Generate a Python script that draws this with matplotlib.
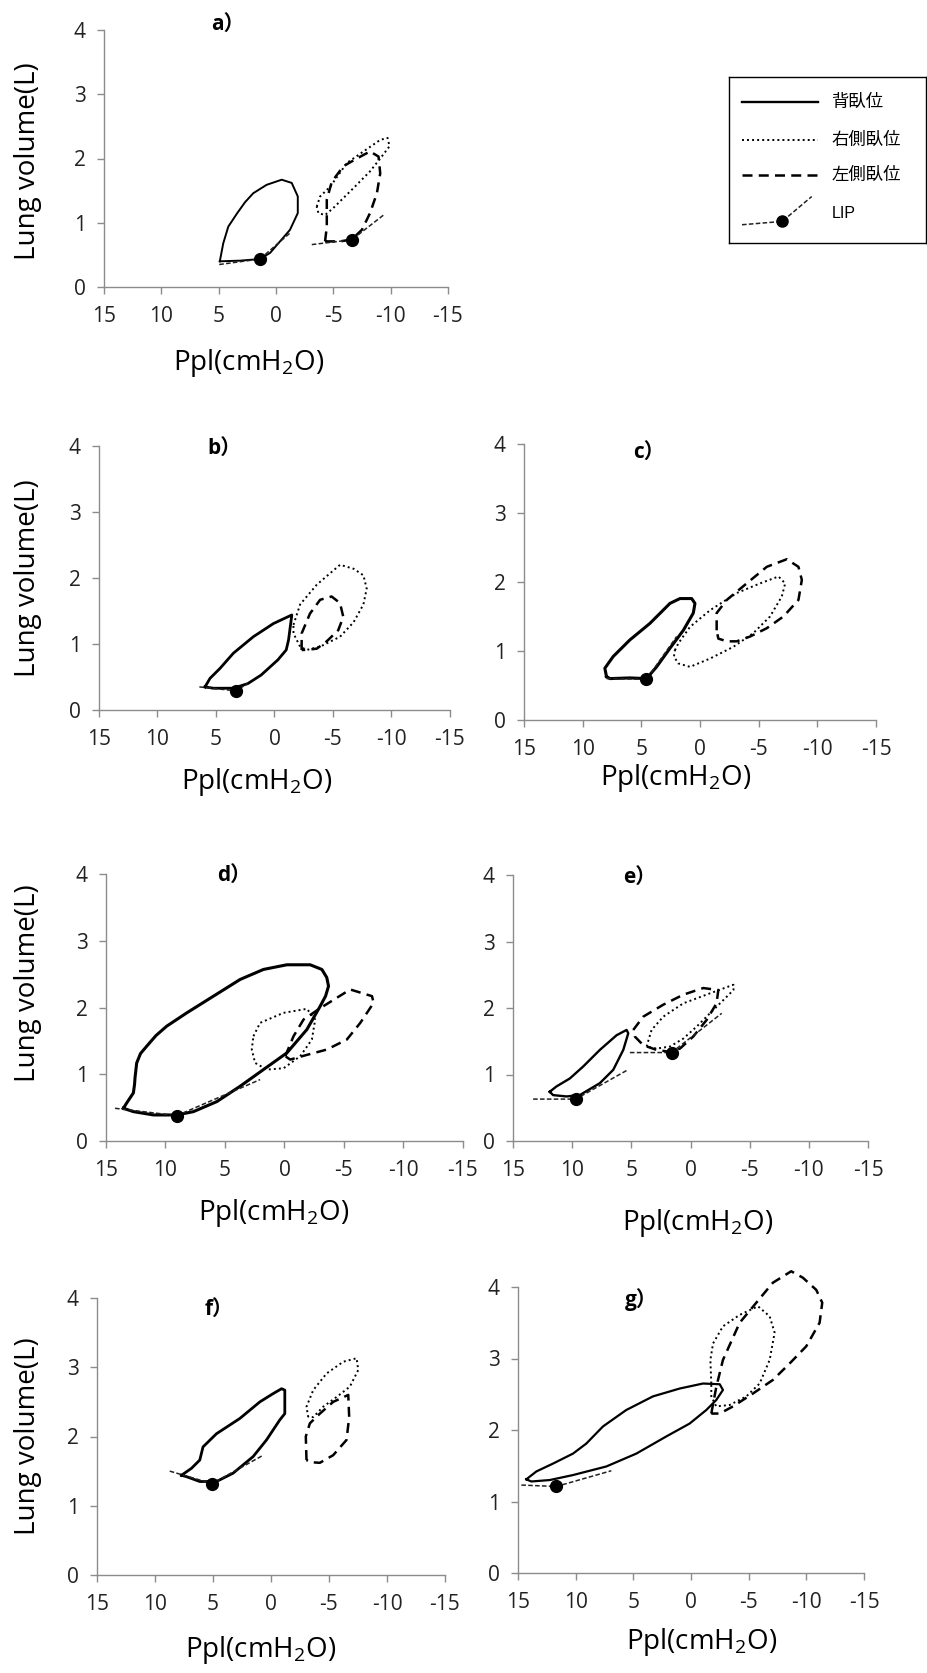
import matplotlib
matplotlib.use('Agg')
import matplotlib.pyplot as plt

plt.rcParams['font.family'] = ['Open Sans', 'Noto Sans CJK JP', 'DejaVu Sans']
plt.rcParams['mathtext.fontset'] = 'custom'
plt.rcParams['mathtext.rm'] = 'Open Sans'

# (Ppl cmH2O, volume L) traced loops; sup=背臥位, right=右側臥位, left=左側臥位
a_sup = [(4.9,0.40),(4.6,0.68),(4.16,0.94),(3.38,1.15),(2.7,1.32),(1.98,1.46),(0.82,1.59),(-0.5,1.67),(-1.37,1.62),(-1.9,1.41),(-1.9,1.15),(-1.22,0.89),(-0.35,0.71),(0.52,0.53),(1.4,0.435),(3.15,0.41),(4.9,0.40)]
a_right = [(-3.55,1.25),(-3.85,1.41),(-4.72,1.56),(-6.18,1.93),(-7.63,2.11),(-9.09,2.29),(-9.73,2.32),(-9.9,2.19),(-9.09,2.0),(-8.2,1.80),(-6.76,1.54),(-5.0,1.23),(-4.28,1.12),(-3.7,1.15),(-3.55,1.25)]
a_left = [(-4.28,0.71),(-4.43,0.94),(-4.43,1.36),(-4.87,1.64),(-5.88,1.88),(-7.05,2.0),(-8.2,2.11),(-8.94,2.03),(-9.09,1.77),(-8.8,1.46),(-8.2,1.15),(-7.49,0.89),(-6.6,0.74),(-5.6,0.71),(-4.28,0.71)]
a_lip = [[(4.95,0.35),(1.4,0.435),(-1.22,0.84)], [(-3.12,0.66),(-6.61,0.735),(-9.38,1.12)]]

b_sup = [(5.94,0.35),(5.51,0.48),(4.66,0.63),(3.52,0.86),(1.81,1.11),(0.09,1.31),(-1.48,1.44),(-1.2,1.06),(-1.0,0.91),(-0.29,0.76),(1.14,0.53),(2.28,0.40),(3.52,0.33),(5.23,0.33),(5.94,0.35)]
b_right = [(-1.62,1.29),(-2.19,1.6),(-3.62,1.9),(-5.6,2.2),(-6.76,2.14),(-7.6,2.04),(-7.88,1.84),(-7.6,1.6),(-6.76,1.33),(-5.6,1.11),(-3.9,0.96),(-2.75,0.91),(-2.19,0.96),(-1.62,1.16),(-1.62,1.29)]
b_left = [(-2.32,0.91),(-2.32,1.16),(-3.03,1.46),(-3.9,1.67),(-4.88,1.72),(-5.6,1.62),(-5.88,1.41),(-5.45,1.21),(-4.46,1.04),(-3.62,0.93),(-2.75,0.91),(-2.32,0.91)]
b_lip = [[(6.42,0.35),(3.29,0.29),(2.3,0.40)]]

c_sup = [(7.97,0.63),(8.11,0.75),(7.4,0.92),(5.98,1.16),(4.27,1.40),(2.56,1.69),(1.71,1.76),(0.71,1.76),(0.43,1.69),(0.57,1.55),(1.42,1.30),(2.56,1.04),(3.7,0.77),(4.56,0.60),(5.98,0.61),(7.68,0.60),(7.97,0.63)]
c_right = [(2.14,1.01),(1.85,1.11),(0.85,1.35),(-0.85,1.59),(-3.13,1.84),(-5.12,1.98),(-6.69,2.08),(-7.26,1.98),(-6.97,1.79),(-5.97,1.50),(-4.55,1.26),(-2.84,1.06),(-0.85,0.89),(0.85,0.77),(1.85,0.82),(2.22,0.92),(2.14,1.01)]
c_left = [(-1.42,1.30),(-1.42,1.55),(-2.28,1.74),(-3.98,1.98),(-5.69,2.22),(-7.4,2.33),(-8.39,2.22),(-8.68,2.03),(-8.39,1.74),(-7.11,1.50),(-5.69,1.33),(-4.27,1.21),(-3.13,1.14),(-2.28,1.14),(-1.56,1.18),(-1.42,1.30)]
c_lip = [[(7.97,0.60),(4.56,0.59),(1.99,1.21)]]

d_sup = [(13.54,0.49),(13.26,0.57),(12.7,0.72),(12.6,0.85),(12.56,0.95),(12.42,1.17),(12.1,1.31),(11.58,1.42),(10.8,1.58),(9.9,1.72),(8.21,1.92),(5.97,2.17),(3.73,2.42),(1.77,2.57),(-0.2,2.64),(-2.16,2.64),(-3.14,2.57),(-3.55,2.45),(-3.7,2.32),(-3.45,2.17),(-3.0,2.02),(-1.88,1.67),(-0.2,1.32),(1.77,1.07),(3.73,0.82),(5.69,0.59),(7.65,0.44),(9.05,0.39),(11.0,0.39),(12.7,0.44),(13.54,0.49)]
d_right = [(2.61,1.57),(2.05,1.77),(0.08,1.92),(-1.88,1.98),(-2.58,1.82),(-2.3,1.52),(-1.32,1.27),(0.08,1.09),(1.49,1.07),(2.47,1.17),(2.75,1.37),(2.61,1.57)]
d_left = [(-0.06,1.27),(-0.76,1.57),(-1.6,1.82),(-3.0,1.99),(-5.52,2.27),(-7.35,2.17),(-7.49,2.07),(-6.37,1.77),(-5.24,1.52),(-3.56,1.37),(-1.88,1.29),(-0.48,1.22),(-0.06,1.27)]
d_lip = [[(14.24,0.49),(9.05,0.38),(2.05,0.92)]]

e_sup = [(11.9,0.74),(11.33,0.82),(10.2,0.94),(9.07,1.12),(7.66,1.37),(6.25,1.59),(5.4,1.67),(5.26,1.62),(5.68,1.37),(6.53,1.07),(7.66,0.87),(9.36,0.69),(10.48,0.67),(11.61,0.69),(11.9,0.74)]
e_right = [(3.71,1.42),(3.29,1.67),(2.3,1.87),(0.61,2.07),(-1.64,2.22),(-3.63,2.35),(-3.63,2.27),(-2.78,2.12),(-1.64,1.92),(-0.52,1.72),(0.61,1.54),(1.74,1.42),(2.87,1.39),(3.71,1.42)]
e_left = [(4.84,1.67),(3.99,1.87),(2.3,2.05),(0.61,2.2),(-1.08,2.3),(-2.35,2.27),(-2.2,2.07),(-1.36,1.82),(-0.23,1.57),(0.89,1.39),(1.74,1.34),(2.87,1.37),(3.99,1.44),(4.7,1.57),(4.84,1.67)]
e_lip = [[(13.3,0.63),(9.7,0.63),(5.4,1.06)], [(5.12,1.33),(1.6,1.33),(-2.64,1.92)]]

f_sup = [(7.72,1.44),(6.86,1.54),(6.14,1.66),(5.86,1.85),(4.7,2.04),(2.69,2.26),(0.96,2.5),(-0.19,2.62),(-0.91,2.69),(-1.19,2.67),(-1.19,2.33),(-0.76,2.24),(0.39,1.95),(1.54,1.71),(3.27,1.47),(4.7,1.35),(6.14,1.35),(7.29,1.42),(7.72,1.44)]
f_right = [(-3.21,2.28),(-3.06,2.43),(-3.64,2.67),(-4.79,2.91),(-6.23,3.08),(-7.38,3.13),(-7.52,2.96),(-6.8,2.72),(-5.65,2.57),(-4.5,2.43),(-3.64,2.28),(-3.21,2.28)]
f_left = [(-3.06,1.66),(-3.0,2.0),(-3.35,2.19),(-4.21,2.33),(-5.36,2.5),(-6.66,2.6),(-6.74,2.28),(-6.51,1.95),(-5.36,1.73),(-4.21,1.62),(-3.35,1.63),(-3.06,1.66)]
f_lip = [[(8.73,1.50),(5.08,1.32),(0.67,1.73)]]

g_sup = [(14.28,1.31),(13.41,1.42),(11.97,1.53),(10.23,1.67),(9.08,1.81),(7.63,2.05),(5.61,2.28),(3.30,2.47),(0.98,2.58),(-1.04,2.65),(-2.49,2.64),(-2.77,2.56),(-2.19,2.42),(-1.33,2.28),(0.12,2.09),(2.14,1.91),(4.74,1.67),(7.34,1.49),(10.23,1.37),(12.25,1.30),(13.84,1.28),(14.28,1.31)]
g_right = [(-1.76,2.65),(-1.68,2.98),(-1.91,3.21),(-2.77,3.45),(-4.22,3.61),(-5.81,3.73),(-6.82,3.59),(-7.25,3.36),(-6.82,2.98),(-5.95,2.65),(-4.8,2.47),(-3.35,2.35),(-2.19,2.33),(-1.76,2.47),(-1.76,2.65)]
g_left = [(-1.76,2.23),(-2.19,2.6),(-2.77,2.98),(-4.22,3.50),(-5.66,3.78),(-7.1,4.06),(-8.69,4.22),(-9.7,4.13),(-10.86,3.96),(-11.38,3.78),(-11.15,3.50),(-9.99,3.17),(-8.55,2.93),(-7.1,2.70),(-5.37,2.51),(-3.64,2.33),(-2.49,2.23),(-1.76,2.23)]
g_lip = [[(14.71,1.23),(11.68,1.21),(6.91,1.43)]]

x_ticks = [15, 10, 5, 0, -5, -10, -15]
y_ticks = [0, 1, 2, 3, 4]
legend_labels = ['背臥位', '右側臥位', '左側臥位', 'LIP']

W, H = 928, 1673
fig = plt.figure(figsize=(W / 100, H / 100), dpi=100)

GRAY = '#8c8c8c'
DOTTED = dict(color='black', lw=1.4, ls=(0, (1, 1.6)))
DASHED = dict(color='black', lw=1.8, ls=(0, (4, 2.5)), dash_joinstyle='round')
LIPLINE = dict(color='#222222', lw=1.1, ls=(0, (3, 1.5)))


def solid(lw):
    return dict(color='black', lw=lw, ls='-', solid_joinstyle='round')


# name, data, box in px (left, right, top, bottom), title y, xlabel x / offset px, ylabel?, ylabel y, solid lw
panels = [
    ('a', a_sup, a_right, a_left, a_lip, (104, 448, 30, 287), 1.02, 0.42, 76, True, 0.49, 1.4),
    ('b', b_sup, b_right, b_left, b_lip, (99, 450, 446, 710), 0.99, 0.45, 72, True, 0.50, 2.0),
    ('c', c_sup, c_right, c_left, c_lip, (524, 876, 444, 720), 0.97, 0.43, 58, False, 0.5, 2.2),
    ('d', d_sup, d_right, d_left, d_lip, (106, 463, 874, 1141), 0.995, 0.47, 72, True, 0.59, 2.2),
    ('e', e_sup, e_right, e_left, e_lip, (513, 868, 875, 1141), 0.99, 0.52, 82, False, 0.5, 1.7),
    ('f', f_sup, f_right, f_left, f_lip, (97, 445, 1298, 1575), 0.957, 0.47, 75, True, 0.50, 2.0),
    ('g', g_sup, g_right, g_left, g_lip, (518, 864, 1287, 1573), 0.955, 0.53, 69, False, 0.5, 1.6),
]


def draw(ax, pts, style):
    p = [q[0] for q in pts]
    v = [q[1] for q in pts]
    ax.plot(p, v, clip_on=False, **style)


for name, sup, right, left, lips, box, ty, lx, loff, has_y, ly, slw in panels:
    l, r, t, b = box
    ax = fig.add_axes([l / W, 1 - b / H, (r - l) / W, (b - t) / H])
    draw(ax, right, DOTTED)
    draw(ax, left, DASHED)
    draw(ax, sup, solid(slw))
    for seg in lips:
        draw(ax, seg, LIPLINE)
        ax.plot(seg[1][0], seg[1][1], 'o', color='black', ms=8.5, clip_on=False, zorder=5)
    ax.set_xlim(15, -15)
    ax.set_ylim(0, 4)
    ax.set_xticks(x_ticks)
    ax.set_yticks(y_ticks)
    ax.set_xticklabels([str(x) for x in x_ticks])
    for s in ['top', 'right']:
        ax.spines[s].set_visible(False)
    for s in ['left', 'bottom']:
        ax.spines[s].set_color(GRAY)
        ax.spines[s].set_linewidth(1.0)
    ax.tick_params(colors=GRAY, labelcolor='#222222', labelsize=15, length=5, width=1.0)
    ax.tick_params(axis='x', pad=9)
    ax.tick_params(axis='y', pad=8)
    ax.patch.set_alpha(0)
    ax.text(0.31, ty, name + '）', transform=ax.transAxes, fontsize=15, fontweight='bold',
            ha='left', va='center')
    ax.set_xlabel('Ppl(cmH$_\\mathregular{2}$O)', fontsize=20, va='center')
    ax.xaxis.set_label_coords(lx, -loff / (b - t))
    if has_y:
        ax.set_ylabel('Lung volume(L)', fontsize=20, va='center')
        ax.yaxis.set_label_coords(-(l - 28) / (r - l), ly)

# legend box
lax = fig.add_axes([729 / W, 1 - 243 / H, 197 / W, 166 / H])
lax.set_xlim(0, 1)
lax.set_ylim(0, 1)
lax.set_xticks([])
lax.set_yticks([])
for s in lax.spines.values():
    s.set_color('black')
    s.set_linewidth(1.0)
rows = [0.85, 0.62, 0.41, 0.18]
for y, st in zip(rows[:3], [solid(1.7), DOTTED, DASHED]):
    lax.plot([0.066, 0.45], [y, y], **st)
lax.plot([0.066, 0.27, 0.42], [0.11, 0.13, 0.28], **LIPLINE)
lax.plot(0.27, 0.13, 'o', color='black', ms=8)
for y, lab in zip(rows, legend_labels):
    fam = ['Liberation Sans'] if lab == 'LIP' else ['Noto Sans CJK JP']
    lax.text(0.52, y, lab, fontsize=12.5 if lab != 'LIP' else 11.5, family=fam, va='center', ha='left')

fig.savefig('out.png', dpi=100)
